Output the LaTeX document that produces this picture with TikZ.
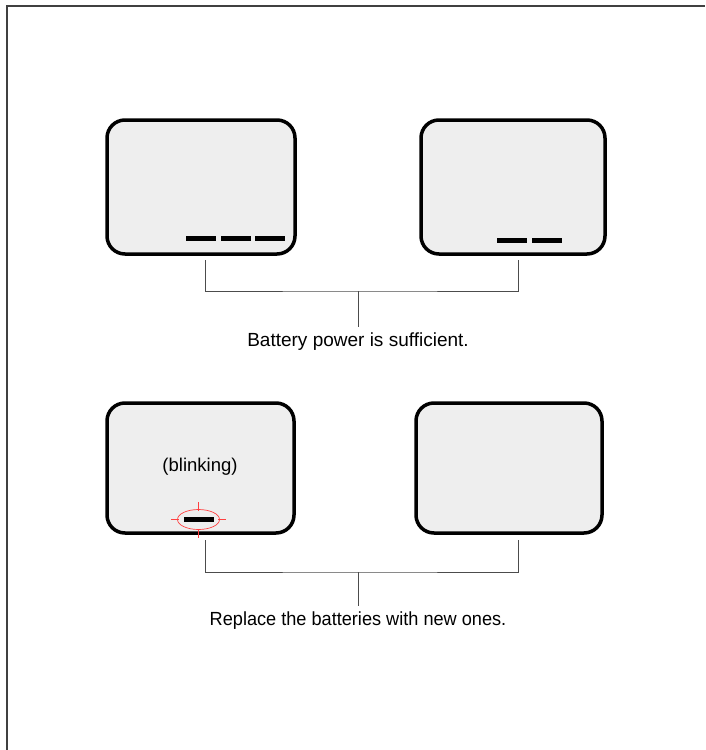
\documentclass[tikz,border=0pt]{standalone}
\usepackage{fontspec}
\setmainfont{Liberation Sans}
\usetikzlibrary{positioning}

\tikzset{
  pantalla/.style={draw=black, line width=3.5pt, fill=gray!13,
                   rounded corners=18pt, inner sep=0pt},
  segmento/.style={fill=black, draw=none, minimum width=30pt,
                   minimum height=5pt, inner sep=0pt},
  conector/.style={draw=black!70, line width=0.9pt},
  leyenda/.style={font=\fontsize{19}{23}\selectfont, inner sep=6pt},
  marca/.style={red!75, line width=0.7pt}
}

\begin{document}
\begin{tikzpicture}[x=1pt, y=-1pt]
    \useasboundingbox (0,0) rectangle (705,750);

    % Marco de la página
    \draw[black!75, line width=1.2pt] (7,750) -- (7,6) -- (705,6);

    % Pantallas superiores (tres y dos segmentos)
    \node[pantalla, minimum width=188pt, minimum height=134pt] (p1) at (201,187) {};
    \node[pantalla, minimum width=184pt, minimum height=134pt] (p2) at (513,187) {};
    \foreach \x [count=\i] in {200.5,235.5,270}
        \node[segmento] (s1-\i) at (\x,238) {};
    \foreach \x [count=\i] in {512,546.5}
        \node[segmento] (s2-\i) at (\x,240) {};

    % Corchete y texto superior
    \coordinate (a1) at (205,260);
    \coordinate (a2) at (518,260);
    \coordinate (m1) at (358,291);
    \node[leyenda] (t1) at (358,342) {Battery power is sufficient.};
    \draw[conector] (a1) |- (m1) -| (a2);
    \draw[conector] (m1) -- (t1.north);

    % Pantallas inferiores (un segmento parpadeando y vacía)
    \node[pantalla, minimum width=187pt, minimum height=130pt] (p3) at (200.5,468) {};
    \node[pantalla, minimum width=186pt, minimum height=130pt] (p4) at (509,468) {};
    \node[segmento] (s3-1) at (198.5,519.5) {};
    \node[font=\fontsize{18.5}{22}\selectfont] (parpadeo) at (200,467) {(blinking)};

    % Marca roja alrededor del segmento
    \draw[marca] (198.5,519.5) ellipse [x radius=21, y radius=10];
    \draw[marca] (198.5,502) -- (198.5,511);
    \draw[marca] (198.5,529) -- (198.5,538);
    \draw[marca] (171,519.5) -- (179,519.5);
    \draw[marca] (218,519.5) -- (226,519.5);

    % Corchete y texto inferior
    \coordinate (a3) at (205,540);
    \coordinate (a4) at (518,540);
    \coordinate (m2) at (358,572);
    \node[leyenda] (t2) at (358,621)
         {\scalebox{0.955}[1]{Replace the batteries with new ones.}};
    \draw[conector] (a3) |- (m2) -| (a4);
    \draw[conector] (m2) -- (t2.north);
\end{tikzpicture}
\end{document}
